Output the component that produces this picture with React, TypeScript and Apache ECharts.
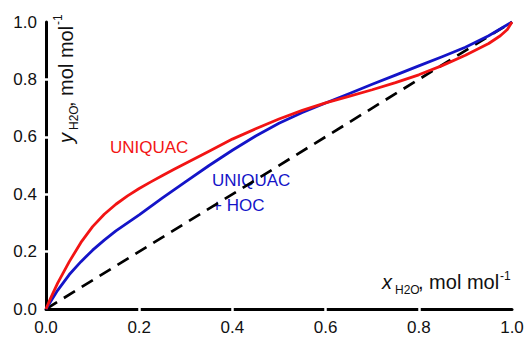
import React, { useEffect, useRef } from 'react';
import * as echarts from 'echarts';

// x (liquid mole fraction of water) and y (vapour mole fraction) for each model
const xUniquac = [0, 0.01, 0.025, 0.05, 0.075, 0.1, 0.125, 0.15, 0.175, 0.2, 0.225, 0.25, 0.275, 0.3, 0.35, 0.4, 0.45, 0.5, 0.55, 0.6, 0.65, 0.7, 0.75, 0.8, 0.85, 0.9, 0.95, 0.975, 0.99, 1];
const yUniquac = [0, 0.038, 0.09, 0.165, 0.232, 0.287, 0.33, 0.365, 0.394, 0.42, 0.443, 0.465, 0.487, 0.508, 0.55, 0.592, 0.628, 0.662, 0.692, 0.718, 0.741, 0.764, 0.789, 0.816, 0.848, 0.884, 0.925, 0.952, 0.974, 1];

const xHoc = [0, 0.01, 0.025, 0.05, 0.075, 0.1, 0.125, 0.15, 0.175, 0.2, 0.225, 0.25, 0.3, 0.35, 0.4, 0.45, 0.5, 0.55, 0.6, 0.65, 0.7, 0.75, 0.8, 0.85, 0.9, 0.95, 1];
const yHoc = [0, 0.026, 0.065, 0.12, 0.165, 0.205, 0.24, 0.272, 0.3, 0.328, 0.358, 0.387, 0.444, 0.5, 0.553, 0.603, 0.647, 0.685, 0.718, 0.75, 0.783, 0.815, 0.847, 0.879, 0.912, 0.952, 1];

const xDiag = [0, 1];
const yDiag = [0, 1];

const tickValues = [0, 0.2, 0.4, 0.6, 0.8, 1.0];
const gapValues = [0.2, 0.4, 0.6, 0.8];

const FONT = '"Liberation Sans", Arial, sans-serif';
const RED = '#f21414';
const BLUE = '#1414c8';

const zip = (xs: number[], ys: number[]) => xs.map((x, i) => [x, ys[i]]);

export default function App() {
  const ref = useRef<HTMLDivElement>(null);
  useEffect(() => {
    document.body.style.margin = '0';
    if (!ref.current) return;
    const chart = echarts.init(ref.current, undefined, { renderer: 'svg' });
    const baseAxis = () => ({
      type: 'value' as const,
      min: 0,
      max: 1,
      interval: 0.2,
      splitLine: { show: false },
    });
    const mainAxis = (isX: boolean) => ({
      ...baseAxis(),
      position: isX ? 'bottom' : 'left',
      axisLine: { show: true, onZero: false, lineStyle: { color: '#000', width: 3 } },
      axisTick: { show: true, inside: false, length: 3, customValues: gapValues, lineStyle: { color: '#fff', width: 2.5 } },
      axisLabel: {
        show: true,
        margin: isX ? 10 : 9,
        fontSize: 17,
        color: '#111',
        fontFamily: FONT,
        customValues: tickValues,
        formatter: (v: number) => v.toFixed(1),
      },
      z: 1,
    });
    const gapAxis = (isX: boolean) => ({
      ...baseAxis(),
      position: isX ? 'bottom' : 'left',
      axisLine: { show: false, onZero: false },
      axisTick: { show: true, inside: true, length: 3, customValues: gapValues, lineStyle: { color: '#fff', width: 2.5 } },
      axisLabel: { show: false },
      z: 2,
    });

    const t = (text: string, x: number, y: number, size: number, color: string, italic = false) => ({
      type: 'text',
      x,
      y,
      style: {
        text,
        fill: color,
        font: `${italic ? 'italic ' : ''}${size}px ${FONT}`,
        textAlign: 'left',
        textVerticalAlign: 'middle',
        verticalAlign: 'middle',
      },
    });

    chart.setOption({
      animation: false,
      backgroundColor: '#fff',
      grid: { left: 46, right: 13, top: 22, bottom: 30, containLabel: false, outerBoundsMode: 'none' },
      xAxis: [mainAxis(true), gapAxis(true)],
      yAxis: [mainAxis(false), gapAxis(false)],
      series: [
        {
          type: 'line',
          name: 'diagonal',
          data: zip(xDiag, yDiag),
          showSymbol: false,
          lineStyle: { color: '#000', width: 2.7, type: [13, 8] },
          z: 3,
        },
        {
          type: 'line',
          name: 'UNIQUAC + HOC',
          data: zip(xHoc, yHoc),
          smooth: false,
          showSymbol: false,
          lineStyle: { color: BLUE, width: 2.8, join: 'round' },
          z: 4,
        },
        {
          type: 'line',
          name: 'UNIQUAC',
          data: zip(xUniquac, yUniquac),
          smooth: false,
          showSymbol: false,
          lineStyle: { color: RED, width: 2.8, join: 'round' },
          z: 5,
        },
      ],
      graphic: [
        t('UNIQUAC', 110, 147, 17, RED),
        t('UNIQUAC', 212, 180, 17, BLUE),
        t('+ HOC', 212, 205, 17, BLUE),
        // x-axis title
        t('x', 382, 282, 20, '#111', true),
        t('H2O', 395, 289.5, 12, '#111'),
        t(', mol mol', 418, 282, 20, '#111'),
        t('-1', 500, 276, 12, '#111'),
        // y-axis title (rotated)
        {
          type: 'group',
          x: 0,
          y: 143,
          rotation: Math.PI / 2,
          children: [
            t('y', 0, 66, 20, '#111', true),
            t('H2O', 13, 73.8, 12, '#111'),
            t(', mol mol', 36, 66, 20, '#111'),
            t('-1', 118, 58, 12, '#111'),
          ],
        },
      ],
    });
    return () => chart.dispose();
  }, []);
  return <div ref={ref} style={{ width: 525, height: 339, background: '#fff' }} />;
}
